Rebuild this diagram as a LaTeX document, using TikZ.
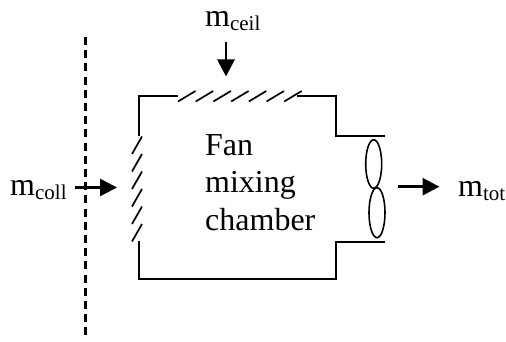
\documentclass[tikz,border=0pt]{standalone}
\usepackage{fontspec}
\setmainfont{Liberation Serif}
\usetikzlibrary{arrows.meta,positioning,shapes.geometric}
\definecolor{Ink}{HTML}{000000}
\newcommand{\massflow}[1]{m\raisebox{-4pt}{\fontsize{21}{24}\selectfont #1}}
\begin{document}
\begin{tikzpicture}[
  x=1pt, y=-1pt,
  wall/.style={Ink, line width=2pt},
  hatch/.style={Ink, line width=1.7pt},
  lobe/.style={draw=Ink, line width=1.6pt, ellipse, minimum width=16pt, inner sep=0pt},
  arr/.style={-{Triangle[length=17pt,width=17pt]}, Ink, line width=2.8pt},
  lbl/.style={font=\fontsize{32}{37.5}\selectfont, anchor=base west, inner sep=0pt, align=left}
]
\useasboundingbox (0,0) rectangle (506,342);
% border line
\coordinate (dashT) at (85,37);
\coordinate (dashB) at (85,340);
\draw[Ink, line width=3pt, dash pattern=on 8pt off 5.2pt] (dashT) -- (dashB);
% chamber
\draw[wall] (178,96) -- (139,96) -- (139,136);
\draw[wall] (139,241) -- (139,279) -- (336,279) -- (336,241.5) -- (385,241.5);
\draw[wall] (297,96) -- (336,96) -- (336,136) -- (385,136);
\foreach \i in {0,...,6}
  \draw[hatch] (178+17.7*\i,101.5) -- ++(17.5,-10.5);
\foreach \i in {0,...,5}
  \draw[hatch] (142,136.5+17.5*\i) -- ++(-10,17.5);
% fan
\node[lobe, minimum height=48.5pt] (lobeT) at (373.7,164) {};
\node[lobe, minimum height=50pt] (lobeB) at (377,212.7) {};
% labels
\node[lbl] (ceil) at (205,27) {\massflow{ceil}};
\node[lbl] (coll) at (10,195.5) {\massflow{coll}};
\node[lbl] (tot) at (458,196) {\massflow{tot}};
\node[lbl] (room) at (205,230) {Fan\\mixing\\chamber};
% flows
\coordinate (ceilS) at (226,42);
\coordinate (ceilE) at (226,76.5);
\coordinate (collS) at (75,187.5);
\coordinate (collE) at (117,187.5);
\coordinate (totS) at (398,186.7);
\coordinate (totE) at (439.5,186.7);
\draw[arr] (ceilS) -- (ceilE);
\draw[arr] (collS) -- (collE);
\draw[arr] (totS) -- (totE);
\end{tikzpicture}
\end{document}
